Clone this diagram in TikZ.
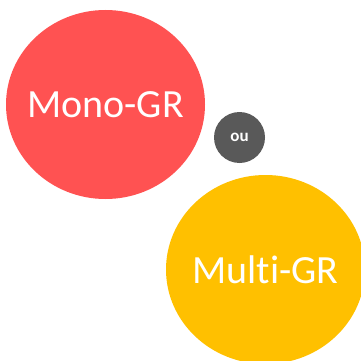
\documentclass[tikz,border=0pt]{standalone}
\usepackage{fontspec}
\setmainfont{Carlito}[RawFeature=-liga]
\usetikzlibrary{shapes.geometric}
\definecolor{monored}{RGB}{255,82,82}
\definecolor{multiyellow}{RGB}{255,192,0}
\definecolor{ougray}{RGB}{89,89,89}
\begin{document}
\begin{tikzpicture}[x=1pt,y=-1pt,
    bigbubble/.style={ellipse,fill=#1,minimum width=199pt,minimum height=189pt,inner sep=0pt},
    bubbletext/.style={text=white,font=\fontsize{40}{40}\selectfont},
    smallbubble/.style={circle,fill=ougray,text=white,minimum size=51pt,inner sep=0pt,font=\fontsize{17}{17}\selectfont\bfseries}]
    \clip (0,0) rectangle (361,361);
    \node[bigbubble=monored, label={[bubbletext]center:Mono-GR}] (mono) at (105.5,104.5) {};
    \node[smallbubble] (ou) at (239.5,137.5) {ou};
    \node[bigbubble=multiyellow, label={[bubbletext]center:Multi-GR}] (multi) at (265.5,269.5) {};
\end{tikzpicture}
\end{document}
